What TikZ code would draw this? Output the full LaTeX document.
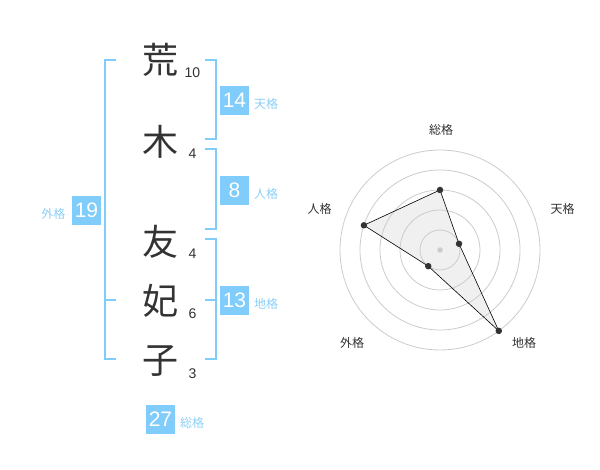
\documentclass[tikz,border=0pt]{standalone}
\usepackage{fontspec}
\setmainfont{Liberation Sans}
\newfontfamily\cjk{Noto Sans CJK JP}
\definecolor{kblue}{RGB}{128,204,250}
\definecolor{klabel}{RGB}{140,208,248}
\definecolor{ktext}{RGB}{51,51,51}
\definecolor{kgrid}{RGB}{204,204,204}
\definecolor{kfill}{RGB}{240,240,240}
\tikzset{
  kanji/.style={text=ktext,font=\cjk\fontsize{36}{36}\selectfont,inner sep=0pt},
  strokes/.style={text=ktext,font=\fontsize{14}{14}\selectfont,inner sep=0pt},
  valbox/.style={fill=kblue,text=white,minimum width=29pt,minimum height=29pt,inner sep=0pt,font=\fontsize{21}{21}\selectfont},
  vallabel/.style={text=klabel,font=\cjk\fontsize{12}{12}\selectfont,inner sep=0pt},
  bracket/.style={draw=kblue,line width=2pt},
  grid/.style={draw=kgrid,line width=0.8pt},
  axislabel/.style={text=ktext,font=\cjk\fontsize{12}{12}\selectfont,inner sep=0pt},
  dot/.style={circle,fill=ktext,minimum size=6.5pt,inner sep=0pt}
}
\begin{document}
\begin{tikzpicture}[x=1pt,y=-1pt]
\useasboundingbox[fill=white] (0,0) rectangle (600,470);
% characters
\node[kanji] (c1) at (160,60) {荒};
\node[kanji] (c2) at (160,142) {木};
\node[kanji] (c3) at (160,242) {友};
\node[kanji] (c4) at (160,301) {妃};
\node[kanji] (c5) at (160,361) {子};
\node[strokes] (s1) at (192.5,73) {10};
\node[strokes] (s2) at (192.5,153.5) {4};
\node[strokes] (s3) at (192.5,253.5) {4};
\node[strokes] (s4) at (192.5,313.5) {6};
\node[strokes] (s5) at (192.5,373.5) {3};
% brackets
\draw[bracket] (116,60) -- (105,60) -- (105,359.5) -- (116,359.5);
\draw[bracket] (105,300) -- (116,300);
\draw[bracket] (205,60) -- (215.5,60) -- (215.5,139.5) -- (205,139.5);
\draw[bracket] (205,149.5) -- (215.5,149.5) -- (215.5,229.5) -- (205,229.5);
\draw[bracket] (205,239.5) -- (215.5,239.5) -- (215.5,359.5) -- (205,359.5);
\draw[bracket] (205,300) -- (215.5,300);
% value boxes
\node[valbox] (b14) at (234.5,100.5) {14};
\node[vallabel,anchor=west] (l14) at (254,104) {天格};
\node[valbox] (b8) at (234.5,190.5) {8};
\node[vallabel,anchor=west] (l8) at (254,194) {人格};
\node[valbox] (b13) at (234.5,300.5) {13};
\node[vallabel,anchor=west] (l13) at (254,304) {地格};
\node[valbox] (b19) at (86.5,210.5) {19};
\node[vallabel,anchor=east] (l19) at (65.5,214) {外格};
\node[valbox] (b27) at (160.5,419) {27};
\node[vallabel,anchor=west] (l27) at (180,423) {総格};
% radar chart
\begin{scope}[shift={(440,250)}]
  \coordinate (pS) at (-90:60);
  \coordinate (pT) at (-18:20);
  \coordinate (pC) at (54:100);
  \coordinate (pG) at (126:20);
  \coordinate (pJ) at (-162:80);
  \fill[kfill] (pS) -- (pT) -- (pC) -- (pG) -- (pJ) -- cycle;
  \foreach \r in {20,40,60,80,100} \draw[grid] (0,0) circle[radius=\r];
  \draw[draw=black,line width=0.6pt,line join=miter] (pS) -- (pT) -- (pC) -- (pG) -- (pJ) -- cycle;
  \node[circle,fill=kgrid,minimum size=5.5pt,inner sep=0pt] (ctr) at (0,0) {};
  \foreach \p in {pS,pT,pC,pG,pJ} \node[dot] at (\p) {};
\end{scope}
\node[axislabel] (aS) at (441,130) {総格};
\node[axislabel] (aT) at (562.5,208.5) {天格};
\node[axislabel] (aC) at (524,342.5) {地格};
\node[axislabel] (aG) at (352,342.5) {外格};
\node[axislabel] (aJ) at (319.5,208.5) {人格};
\end{tikzpicture}
\end{document}
